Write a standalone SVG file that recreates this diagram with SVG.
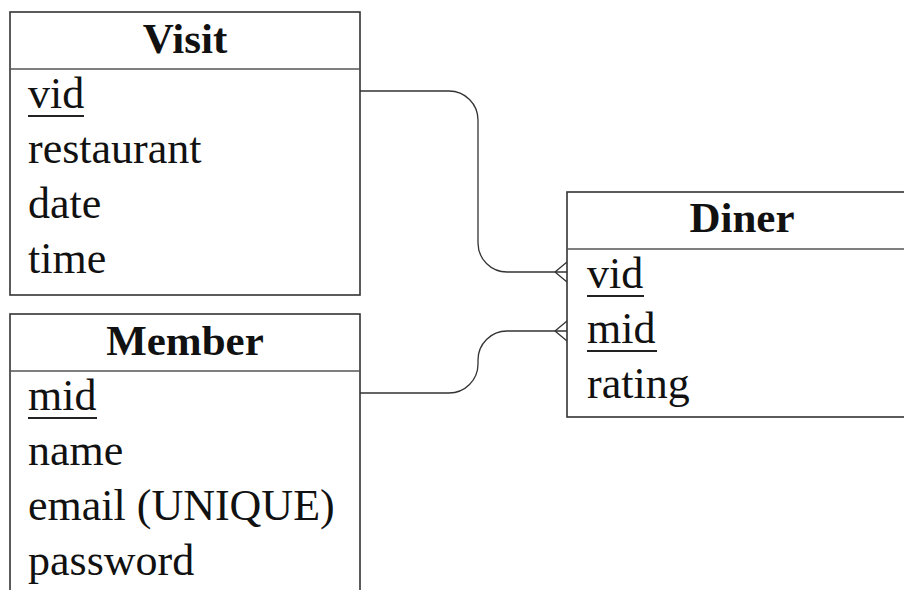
<svg xmlns="http://www.w3.org/2000/svg" width="904" height="590" viewBox="0 0 904 590">
<style>
.box{fill:#fff;stroke:#333;stroke-width:1.6}
.div{stroke:#555;stroke-width:1.6}
.title{font-family:"Liberation Serif","Times New Roman",serif;font-size:43px;font-weight:bold;fill:#111;text-anchor:middle}
.attr{font-family:"Liberation Serif","Times New Roman",serif;font-size:44px;fill:#111}
.ul{stroke:#222;stroke-width:2}
.conn{fill:none;stroke:#333;stroke-width:1.3}
</style>
<rect width="904" height="590" fill="#fff"/>
<g id="connectors">
<path class="conn" d="M360,91 H449 A29,29 0 0 1 478,120 V243 A29,29 0 0 0 507,272 H567"/>
<path class="conn" d="M555,272 L567,262 M555,272 L567,282"/>
<path class="conn" d="M360,393 H449 A29,29 0 0 0 478,364 V360 A29,29 0 0 1 507,331 H567"/>
<path class="conn" d="M555,331 L567,321 M555,331 L567,341"/>
</g>
<g id="visit">
<rect class="box" x="10" y="12" width="350" height="283"/>
<line class="div" x1="10" y1="69" x2="360" y2="69"/>
<text class="title" x="185" y="53">Visit</text>
<text class="attr" x="28" y="108">vid</text>
<line class="ul" x1="28" y1="116" x2="84" y2="116"/>
<text class="attr" x="28" y="163">restaurant</text>
<text class="attr" x="28" y="218">date</text>
<text class="attr" x="28" y="273">time</text>
</g>
<g id="member">
<rect class="box" x="10" y="314" width="350" height="290"/>
<line class="div" x1="10" y1="371" x2="360" y2="371"/>
<text class="title" x="185" y="355">Member</text>
<text class="attr" x="28" y="410">mid</text>
<line class="ul" x1="28" y1="418" x2="97" y2="418"/>
<text class="attr" x="28" y="465">name</text>
<text class="attr" x="28" y="520">email (UNIQUE)</text>
<text class="attr" x="28" y="575">password</text>
</g>
<g id="diner">
<rect class="box" x="567" y="192" width="350" height="225"/>
<line class="div" x1="567" y1="249" x2="917" y2="249"/>
<text class="title" x="742" y="232">Diner</text>
<text class="attr" x="587" y="288">vid</text>
<line class="ul" x1="587" y1="296" x2="644" y2="296"/>
<text class="attr" x="587" y="343">mid</text>
<line class="ul" x1="587" y1="351" x2="657" y2="351"/>
<text class="attr" x="587" y="398">rating</text>
</g>
</svg>
